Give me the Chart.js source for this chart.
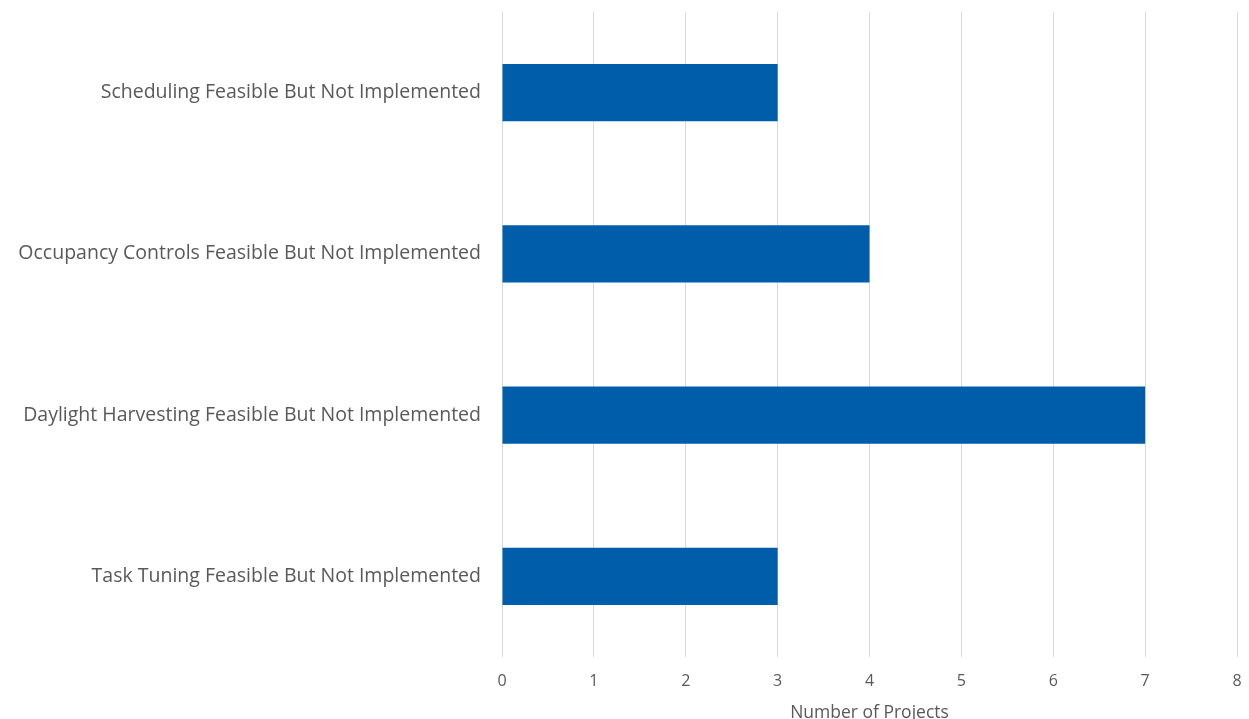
<!DOCTYPE html>
<html>
<head>
<meta charset="utf-8">
<script src="https://cdn.jsdelivr.net/npm/chart.js@4/dist/chart.umd.min.js"></script>
<style>
  html, body { margin: 0; padding: 0; background: #fff; }
  #wrap { width: 1249px; height: 719px; }
</style>
</head>
<body>
<div id="wrap"><canvas id="chart"></canvas></div>
<script>
"use strict";

const categories = [
    "Scheduling Feasible But Not Implemented",
    "Occupancy Controls Feasible But Not Implemented",
    "Daylight Harvesting Feasible But Not Implemented",
    "Task Tuning Feasible But Not Implemented"
];
const projectCounts = [3, 4, 7, 3];
const xTicks = [0, 1, 2, 3, 4, 5, 6, 7, 8];

const textColor = '#595959';
const fontFamily = "'Open Sans', 'Liberation Sans', sans-serif";

const ctx = document.getElementById('chart');

new Chart(ctx, {
    type: 'bar',
    data: {
        labels: categories,
        datasets: [{
            label: 'Number of Projects',
            data: projectCounts,
            backgroundColor: '#005DAA',
            borderWidth: 0,
            categoryPercentage: 1.0,
            barPercentage: 0.355
        }]
    },
    options: {
        indexAxis: 'y',
        responsive: true,
        maintainAspectRatio: false,
        animation: false,
        layout: {
            padding: { top: 12, right: 12, bottom: 0, left: 0 }
        },
        plugins: {
            legend: { display: false },
            tooltip: { enabled: false }
        },
        scales: {
            x: {
                min: 0,
                max: 8,
                afterBuildTicks: function(axis) {
                    axis.ticks = xTicks.map(v => ({ value: v }));
                },
                grid: {
                    color: '#d9d9d9',
                    lineWidth: 1,
                    drawTicks: false
                },
                border: { display: false },
                ticks: {
                    color: textColor,
                    font: { family: fontFamily, size: 16 },
                    padding: 15
                },
                title: {
                    display: true,
                    text: 'Number of Projects',
                    color: textColor,
                    font: { family: fontFamily, size: 17.5 },
                    padding: { top: 8, bottom: -5 }
                },
                afterFit: function(axis) {
                    axis.height = 62;
                    axis.paddingLeft = 0;
                    axis.paddingRight = 0;
                }
            },
            y: {
                grid: { display: false, drawTicks: false },
                border: { display: false },
                ticks: {
                    color: textColor,
                    font: { family: fontFamily, size: 19.5 },
                    padding: 21
                },
                afterFit: function(axis) {
                    axis.width = 502;
                    axis.paddingTop = 0;
                    axis.paddingBottom = 0;
                }
            }
        }
    }
});
</script>
</body>
</html>
